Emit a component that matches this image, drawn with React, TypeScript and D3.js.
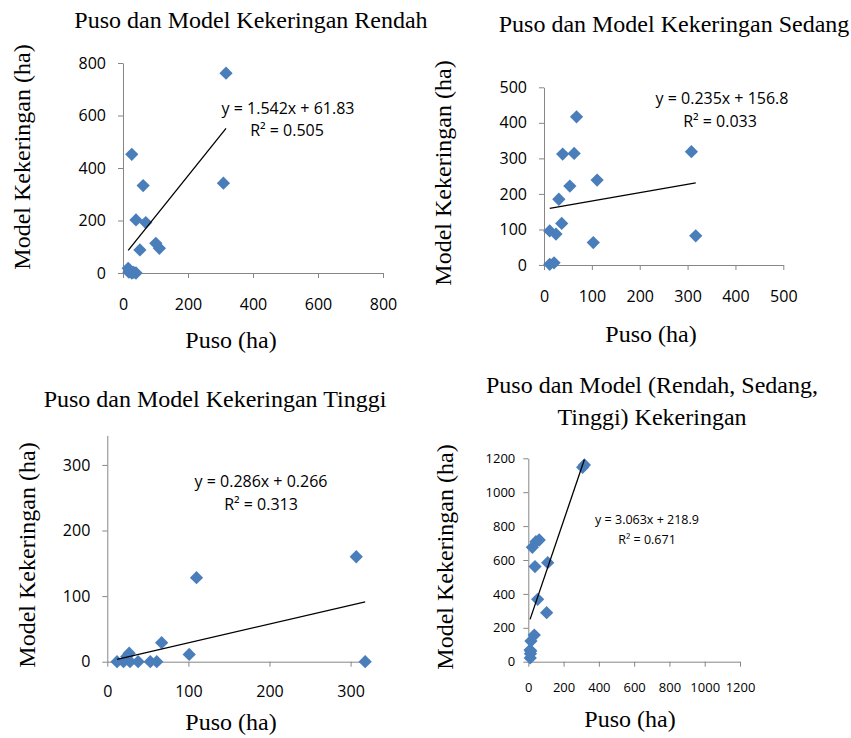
import React, { useEffect, useRef } from "react";
import * as d3 from "d3";

// Puso vs model kekeringan (ha)
const rendahPuso = [317, 309, 27, 62, 40, 70, 52, 101, 112, 16, 27, 40, 18, 22, 33];
const rendahModel = [761, 342, 452, 333, 202, 192, 88, 113, 94, 18, 0, 0, 3, 6, 2];

const sedangPuso = [68, 39, 63, 308, 111, 54, 31, 37, 12, 25, 103, 317, 12, 21];
const sedangModel = [417, 312, 314, 319, 239, 222, 185, 117, 96, 87, 63, 82, 2, 6];

const tinggiPuso = [307, 110, 67, 101, 27, 318, 12, 20, 28, 38, 53, 61, 24];
const tinggiModel = [160, 128, 29, 11, 13, 0, 0, 0, 0, 0, 0, 0, 8];

const totalPuso = [308, 318, 62, 43, 23, 110, 38, 53, 104, 34, 15, 14, 12, 10, 11];
const totalModel = [1147, 1161, 718, 708, 675, 584, 561, 368, 289, 157, 122, 63, 47, 69, 22];

// trendline coefficients [slope, intercept] and labels
const trendCoef = [
  [1.542, 61.83],
  [0.235, 156.8],
  [0.286, 0.266],
  [3.063, 218.9],
];
const eqLabels = ["y = 1.542x + 61.83", "y = 0.235x + 156.8", "y = 0.286x + 0.266", "y = 3.063x + 218.9"];
const r2Labels = ["R² = 0.505", "R² = 0.033", "R² = 0.313", "R² = 0.671"];

const titles = [
  ["Puso dan Model Kekeringan Rendah"],
  ["Puso dan Model Kekeringan Sedang"],
  ["Puso dan Model Kekeringan Tinggi"],
  ["Puso dan Model (Rendah, Sedang,", "Tinggi) Kekeringan"],
];

const xTicks = [
  [0, 200, 400, 600, 800],
  [0, 100, 200, 300, 400, 500],
  [0, 100, 200, 300],
  [0, 200, 400, 600, 800, 1000, 1200],
];
const yTicks = [
  [0, 200, 400, 600, 800],
  [0, 100, 200, 300, 400, 500],
  [0, 100, 200, 300],
  [0, 200, 400, 600, 800, 1000, 1200],
];

const panels = [
  {
    puso: rendahPuso, model: rendahModel,
    xDom: [0, 800], xr: [123, 383], yDom: [0, 800], yr: [273, 63],
    title: { x: 251, y: 28 }, eq: { x: 288, y: 114 }, r2: { x: 287, y: 136 },
    xLab: { x: 231, y: 348 }, yLab: { x: 30, y: 157 }, tick: 16, eqSize: 16, xPad: 21, yPad: 12,
  },
  {
    puso: sedangPuso, model: sedangModel,
    xDom: [0, 500], xr: [544, 783.3], yDom: [0, 500], yr: [265, 87.3],
    title: { x: 674, y: 32 }, eq: { x: 722, y: 104 }, r2: { x: 720, y: 127 },
    xLab: { x: 651, y: 342 }, yLab: { x: 451, y: 173 }, tick: 16, eqSize: 16, xPad: 21, yPad: 12,
  },
  {
    puso: tinggiPuso, model: tinggiModel,
    xDom: [0, 320], xr: [107.3, 366.8], yDom: [0, 345], yr: [661.7, 435.4],
    title: { x: 215, y: 407 }, eq: { x: 261, y: 487 }, r2: { x: 261, y: 510 },
    xLab: { x: 231, y: 730 }, yLab: { x: 35, y: 555 }, tick: 16, eqSize: 16, xPad: 19, yPad: 12,
  },
  {
    puso: totalPuso, model: totalModel,
    xDom: [0, 1200], xr: [528.3, 740], yDom: [0, 1200], yr: [661.7, 458.3],
    title: { x: 652, y: 393, dy: 32 }, eq: { x: 647, y: 524 }, r2: { x: 647, y: 544 },
    xLab: { x: 630, y: 727 }, yLab: { x: 453, y: 557 }, tick: 13, eqSize: 12.5, xPad: 16, yPad: 8,
  },
];

const serif = "'Liberation Serif', 'Times New Roman', serif";
const sans = "'Open Sans', Calibri, sans-serif";

export default function App() {
  const ref = useRef<SVGSVGElement>(null);

  useEffect(() => {
    const svg = d3.select(ref.current);
    svg.selectAll("*").remove();

    panels.forEach((p, i) => {
      const x = d3.scaleLinear().domain(p.xDom).range(p.xr);
      const y = d3.scaleLinear().domain(p.yDom).range(p.yr);
      const g = svg.append("g");

      // axes
      g.append("g")
        .attr("transform", `translate(0,${p.yr[0]})`)
        .call(d3.axisBottom(x).tickValues(xTicks[i]).tickFormat(d3.format("d")).tickSizeInner(5).tickSizeOuter(0).tickPadding(p.xPad))
        .call((a) => a.selectAll("path,line").attr("stroke", "#868686"))
        .call((a) => a.selectAll("text").attr("font-family", sans).attr("font-size", p.tick).attr("fill", "#000"));

      g.append("g")
        .attr("transform", `translate(${p.xr[0]},0)`)
        .call(d3.axisLeft(y).tickValues(yTicks[i]).tickFormat(d3.format("d")).tickSizeInner(5).tickSizeOuter(0).tickPadding(p.yPad))
        .call((a) => a.selectAll("path,line").attr("stroke", "#868686"))
        .call((a) => a.selectAll("text").attr("font-family", sans).attr("font-size", p.tick).attr("fill", "#000"));

      // points
      const sym = d3.symbol().type(d3.symbolDiamond2).size(112);
      g.append("g")
        .selectAll("path")
        .data(p.puso.map((v, j) => [v, p.model[j]]))
        .join("path")
        .attr("d", sym)
        .attr("transform", (d) => `translate(${x(d[0])},${y(d[1])})`)
        .attr("fill", "#4a7ebb");

      // trendline
      const [m, b] = trendCoef[i];
      const ext = d3.extent(p.puso) as [number, number];
      g.append("line")
        .attr("x1", x(ext[0]))
        .attr("y1", y(m * ext[0] + b))
        .attr("x2", x(ext[1]))
        .attr("y2", y(m * ext[1] + b))
        .attr("stroke", "#000")
        .attr("stroke-width", 1.3);

      g.append("text")
        .attr("x", p.eq.x).attr("y", p.eq.y)
        .attr("text-anchor", "middle")
        .attr("font-family", sans).attr("font-size", p.eqSize)
        .text(eqLabels[i]);
      g.append("text")
        .attr("x", p.r2.x).attr("y", p.r2.y)
        .attr("text-anchor", "middle")
        .attr("font-family", sans).attr("font-size", p.eqSize)
        .text(r2Labels[i]);

      // titles
      titles[i].forEach((t, k) => {
        g.append("text")
          .attr("x", p.title.x)
          .attr("y", p.title.y + k * ((p.title as any).dy || 0))
          .attr("text-anchor", "middle")
          .attr("font-family", serif).attr("font-size", 24)
          .text(t);
      });

      g.append("text")
        .attr("x", p.xLab.x).attr("y", p.xLab.y)
        .attr("text-anchor", "middle")
        .attr("font-family", serif).attr("font-size", 24)
        .text("Puso (ha)");

      g.append("text")
        .attr("transform", `translate(${p.yLab.x},${p.yLab.y}) rotate(-90)`)
        .attr("text-anchor", "middle")
        .attr("font-family", serif).attr("font-size", 24)
        .text("Model Kekeringan (ha)");
    });
  }, []);

  return (
    <svg
      ref={ref}
      width={851}
      height={738}
      style={{ position: "absolute", left: 0, top: 0, background: "#fff" }}
    />
  );
}
